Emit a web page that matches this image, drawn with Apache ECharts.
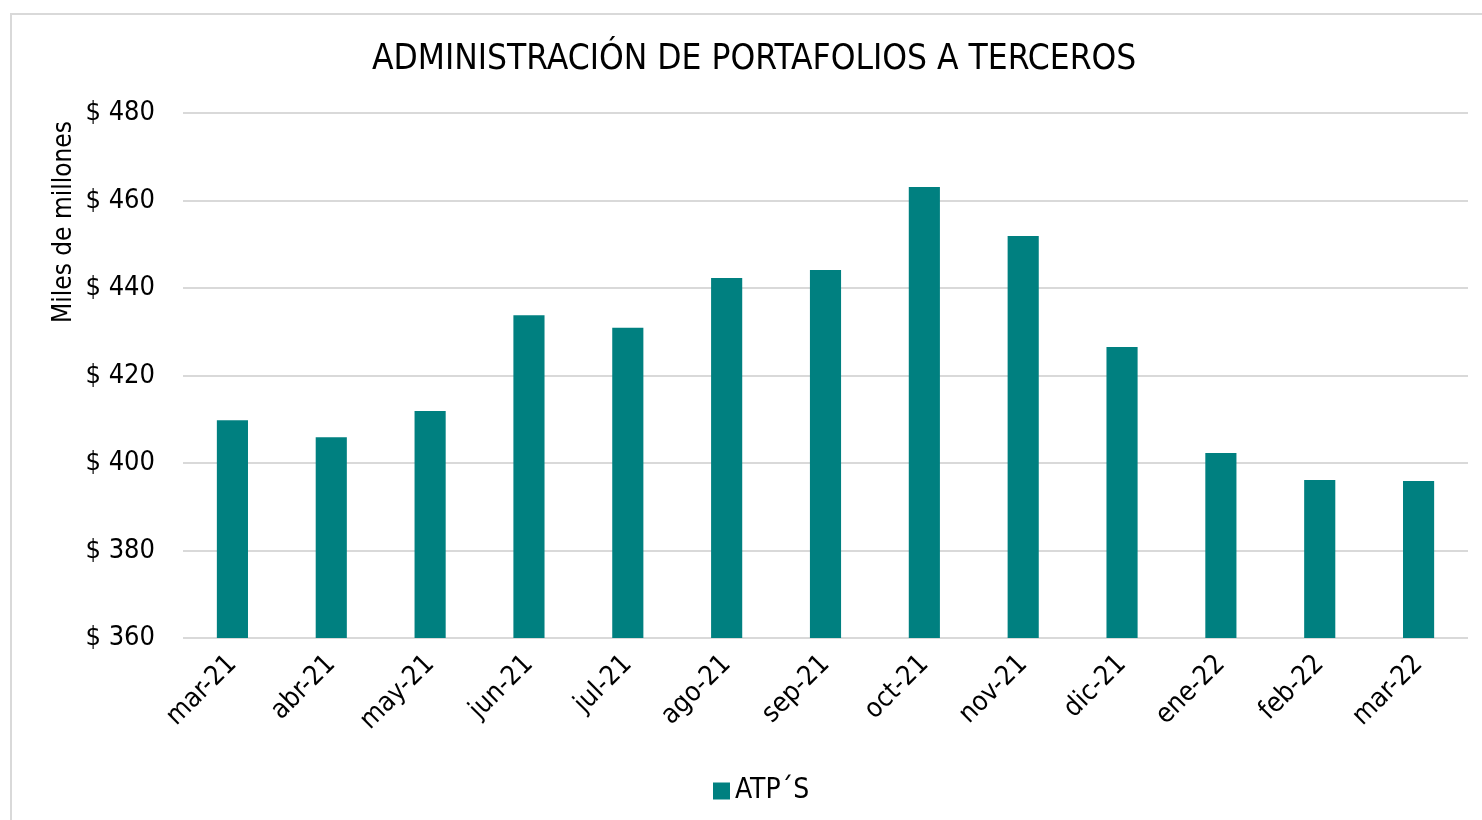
<!DOCTYPE html>
<html>
<head>
<meta charset="utf-8">
<script src="https://cdn.jsdelivr.net/npm/echarts@6/dist/echarts.min.js"></script>
<style>
html,body{margin:0;padding:0;background:#fff;}
#chart{width:1482px;height:820px;}
</style>
</head>
<body>
<div id="chart"></div>
<script>
// meses
var categorias = ['mar-21','abr-21','may-21','jun-21','jul-21','ago-21','sep-21','oct-21','nov-21','dic-21','ene-22','feb-22','mar-22'];
// ATP´S, miles de millones
var valoresATP = [409.8, 405.9, 411.9, 433.8, 430.9, 442.3, 444.1, 463.1, 451.9, 426.5, 402.3, 396.1, 395.9];
var ticksY = [360, 380, 400, 420, 440, 460, 480];

var fuente = "'Liberation Sans Narrow', 'Arial Narrow', 'DejaVu Sans Condensed', sans-serif";

var dom = document.getElementById('chart');
var myChart = echarts.init(dom);

var option = {
    animation: false,
    backgroundColor: '#fff',
    title: {
        text: 'ADMINISTRACIÓN DE PORTAFOLIOS A TERCEROS',
        left: 367,
        top: 37,
        textStyle: {fontFamily: fuente, fontSize: 35, fontWeight: 'normal', color: '#000'}
    },
    legend: {
        data: ['ATP´S'],
        left: 708,
        top: 772,
        icon: 'rect',
        itemWidth: 17,
        itemHeight: 17,
        itemGap: 8,
        textStyle: {fontFamily: fuente, fontSize: 28, color: '#000'}
    },
    grid: {left: 183, right: 14, top: 113, bottom: 182, containLabel: false},
    xAxis: {
        type: 'category',
        data: categorias,
        axisLine: {show: false},
        axisTick: {show: false},
        axisLabel: {rotate: 45, margin: 22, fontFamily: fuente, fontSize: 27, color: '#000'}
    },
    yAxis: {
        type: 'value',
        min: ticksY[0],
        max: ticksY[ticksY.length - 1],
        interval: 20,
        axisLine: {show: false},
        axisTick: {show: false},
        splitLine: {lineStyle: {color: '#d9d9d9', width: 2}},
        axisLabel: {
            margin: 28,
            padding: [6, 0, 0, 0],
            fontFamily: fuente, fontSize: 27, color: '#000',
            formatter: function (v) { return '$ ' + v; }
        }
    },
    graphic: [
        {
            type: 'rect',
            shape: {x: 11, y: 14, width: 1480, height: 820},
            style: {fill: 'none', stroke: '#d9d9d9', lineWidth: 2},
            silent: true
        },
        {
            type: 'text',
            x: 64, y: 222,
            rotation: Math.PI / 2,
            style: {
                text: 'Miles de millones',
                font: '26px ' + fuente,
                fill: '#000',
                textAlign: 'center',
                textVerticalAlign: 'middle'
            }
        }
    ],
    series: [{
        name: 'ATP´S',
        type: 'bar',
        data: valoresATP,
        barWidth: '31.5%',
        itemStyle: {color: '#008080'}
    }]
};

myChart.setOption(option, true);
</script>
</body>
</html>
